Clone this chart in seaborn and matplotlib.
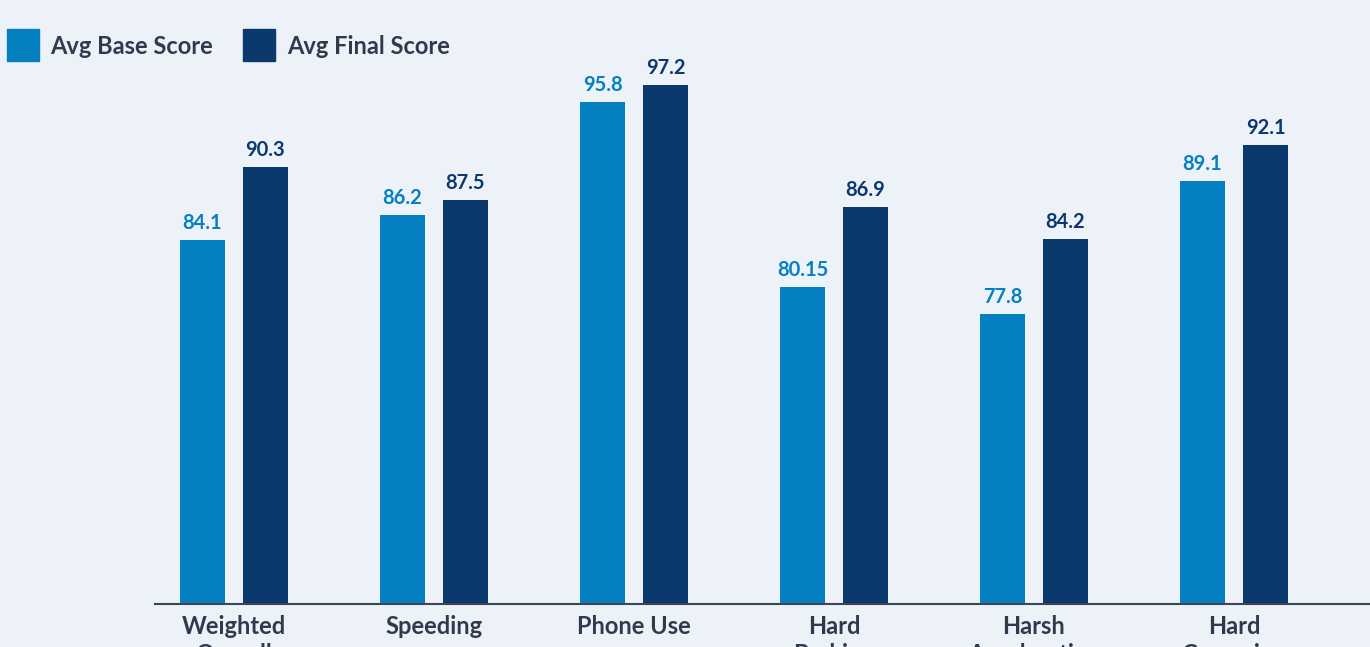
import pandas as pd
import matplotlib
matplotlib.use("Agg")
import matplotlib.pyplot as plt
import seaborn as sns
from matplotlib.patches import Rectangle

categories = ["Weighted\nOverall", "Speeding", "Phone Use", "Hard\nBraking",
              "Harsh\nAcceleration", "Hard\nCornering"]
series_names = ["Avg Base Score", "Avg Final Score"]
base_scores = [84.1, 86.2, 95.8, 80.15, 77.8, 89.1]
final_scores = [90.3, 87.5, 97.2, 86.9, 84.2, 92.1]
base_labels = ["84.1", "86.2", "95.8", "80.15", "77.8", "89.1"]
final_labels = ["90.3", "87.5", "97.2", "86.9", "84.2", "92.1"]

BG = "#EDF2F9"
LIGHT = "#0480C0"
DARK = "#0B386D"
TEXT = "#2F3B4C"

df = pd.DataFrame({
    "Category": categories * 2,
    "Series": [series_names[0]] * 6 + [series_names[1]] * 6,
    "Score": base_scores + final_scores,
})

sns.set_theme(style="white")
plt.rcParams["font.family"] = ["Lato", "DejaVu Sans"]

W, H = 1370, 647
fig = plt.figure(figsize=(W / 100, H / 100), dpi=100)
fig.patch.set_facecolor(BG)
ax = fig.add_axes([155 / W, (H - 604) / H, (W - 155) / W, 604 / H])
ax.set_facecolor(BG)

sns.barplot(data=df, x="Category", y="Score", hue="Series", order=categories,
            hue_order=series_names, palette=[LIGHT, DARK], width=0.63, gap=0.286,
            legend=False, ax=ax, saturation=1, errorbar=None, linewidth=0)

for cont, labels, col in zip(ax.containers, [base_labels, final_labels], [LIGHT, DARK]):
    ax.bar_label(cont, labels=labels, padding=5, color=col, fontsize=14.5,
                 fontweight="bold")

ax.set_xlim(-0.395, 5.68)
ax.set_ylim(53.3, 104.4)
ax.set_yticks([])
ax.set_xlabel("")
ax.set_ylabel("")
for s in ["top", "right", "left"]:
    ax.spines[s].set_visible(False)
ax.spines["bottom"].set_color("#3A4656")
ax.spines["bottom"].set_linewidth(1.5)
ax.tick_params(axis="x", length=0, pad=8)
for lbl in ax.get_xticklabels():
    lbl.set_fontsize(17)
    lbl.set_fontweight("bold")
    lbl.set_color(TEXT)
    lbl.set_linespacing(1.25)
    lbl.set_verticalalignment("top")

# legend
for x0, tx, name, col in [(7, 50, series_names[0], LIGHT), (243, 287, series_names[1], DARK)]:
    fig.patches.append(Rectangle((x0 / W, (H - 61) / H), 32 / W, 32 / H,
                                 transform=fig.transFigure, color=col))
    fig.text(tx / W, (H - 46) / H, name, fontsize=17, fontweight="bold",
             color=TEXT, va="center", ha="left")

fig.savefig("out.png", dpi=100, facecolor=BG)
